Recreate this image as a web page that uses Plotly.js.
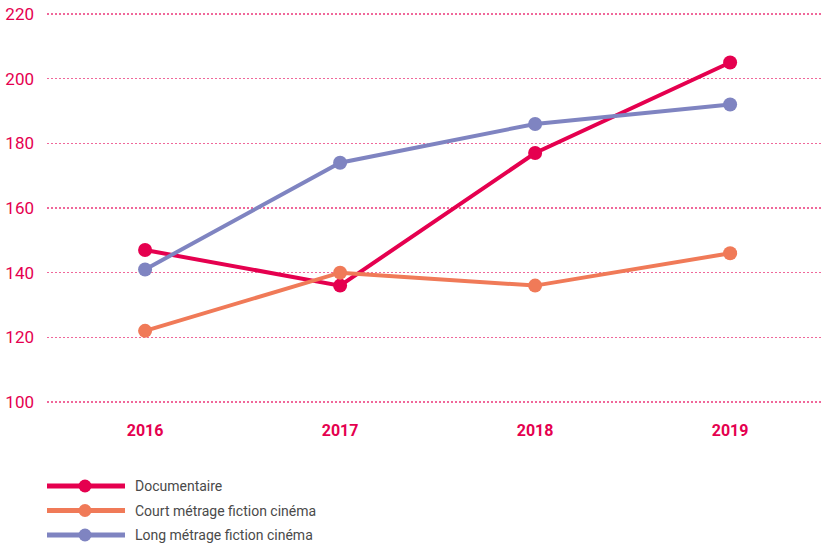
<!DOCTYPE html>
<html><head><meta charset="utf-8">
<script src="https://cdn.plot.ly/plotly-3.0.1.min.js"></script>
<style>html,body{margin:0;padding:0;background:#fff}#c{width:821px;height:548px}</style>
</head><body><div id="c"></div>
<script>
const years = ['2016','2017','2018','2019'];
const seriesNames = ['Documentaire','Court métrage fiction cinéma','Long métrage fiction cinéma'];
const documentaire = [147, 136, 177, 205];
const courtMetrage = [122, 140, 136, 146];
const longMetrage = [141, 174, 186, 192];
const yTicks = [100,120,140,160,180,200,220];
const colors = ['#e5004f','#f07a58','#7f84c1'];

const values = [documentaire, courtMetrage, longMetrage];
const xIdx = years.map((_, i) => i);
const FONT = '"Roboto", sans-serif';

const traces = values.map((v, i) => ({
  type: 'scatter', mode: 'lines+markers', name: seriesNames[i],
  x: xIdx, y: v,
  line: {color: colors[i], width: 4},
  marker: {color: colors[i], size: 14},
  showlegend: false, cliponaxis: false
}));

const W = 821, H = 548;
const plotTop = 12, plotBottom = 404, plotH = plotBottom - plotTop;
const plotL = 47, plotW = W - plotL;
const legY0 = 486, legStep = 24.5;
const shapes = [], annotations = [];
seriesNames.forEach((n, i) => {
  const py = legY0 + i*legStep;
  const yp = (plotBottom - py) / plotH;
  shapes.push({type:'line', xref:'paper', yref:'paper', x0: 0, x1: 78/plotW, y0: yp, y1: yp,
    line:{color: colors[i], width: 5}});
  shapes.push({type:'circle', xref:'paper', yref:'paper',
    x0: (38-6.5)/plotW, x1: (38+6.5)/plotW, y0: yp - 6.5/plotH, y1: yp + 6.5/plotH,
    fillcolor: colors[i], line:{width:0}});
  annotations.push({xref:'paper', yref:'paper', x: 86/plotW, y: yp, xanchor:'left', yanchor:'middle',
    text: n, showarrow:false, font:{family: FONT, size: 14, color:'#4a4a4a'}});
});

const layout = {
  width: W, height: H,
  margin: {l: plotL, r: 0, t: plotTop, b: H - plotBottom},
  paper_bgcolor: '#fff', plot_bgcolor: '#fff',
  showlegend: false,
  xaxis: {
    range: [-0.503, 3.466], tickvals: xIdx, ticktext: years,
    showgrid: false, zeroline: false, showline: false, ticks: '',
    ticklabelstandoff: 15,
    tickfont: {family: FONT, size: 16, color: '#e5004f', weight: 'bold'}
  },
  yaxis: {
    range: [99.38, 220.62], tickvals: yTicks, ticktext: yTicks.map(String),
    showgrid: true, gridcolor: '#f0679a', griddash: '2px,2px', gridwidth: 1.3,
    zeroline: false, showline: false, ticks: '',
    ticklabelstandoff: 12,
    tickfont: {family: FONT, size: 17, color: '#e5004f'}
  },
  shapes: shapes, annotations: annotations
};
Plotly.newPlot('c', traces, layout, {displayModeBar: false, staticPlot: true});
</script></body></html>
